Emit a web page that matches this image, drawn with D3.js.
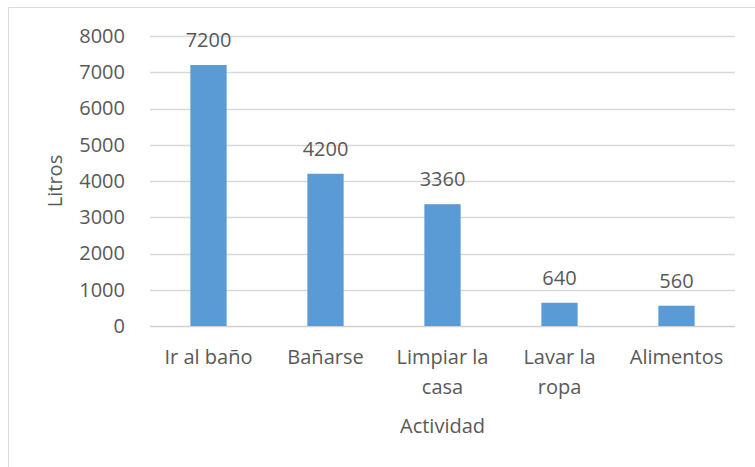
<!DOCTYPE html>
<html>
<head>
<meta charset="utf-8">
<script src="https://cdn.jsdelivr.net/npm/d3@7"></script>
<style>
  body { margin: 0; background: #fff; }
  svg text { font-family: "Open Sans", "Noto Sans", sans-serif; fill: #595959; }
</style>
</head>
<body>
<svg id="chart" width="755" height="467"></svg>
<script>
const categories = [["Ir al baño"], ["Bañarse"], ["Limpiar la", "casa"], ["Lavar la", "ropa"], ["Alimentos"]];
const values = [7200, 4200, 3360, 640, 560];
const yTicks = [0, 1000, 2000, 3000, 4000, 5000, 6000, 7000, 8000];

const svg = d3.select("#chart");
const margin = { left: 150, right: 20, top: 36, bottom: 141 };
const width = +svg.attr("width");
const height = +svg.attr("height");

// chart frame
svg.append("path")
  .attr("d", `M8.5,${height} V7.5 H${width}`)
  .attr("fill", "none")
  .attr("stroke", "#d9d9d9")
  .attr("stroke-width", 1);

const x = d3.scaleBand()
  .domain(d3.range(values.length))
  .range([margin.left, width - margin.right])
  .paddingInner(0.69)
  .paddingOuter(0.345);

const y = d3.scaleLinear()
  .domain([0, 8000])
  .range([height - margin.bottom, margin.top]);

// gridlines
svg.append("g")
  .selectAll("line")
  .data(yTicks)
  .join("line")
  .attr("x1", margin.left)
  .attr("x2", width - margin.right)
  .attr("y1", d => Math.round(y(d)) + 0.5)
  .attr("y2", d => Math.round(y(d)) + 0.5)
  .attr("stroke", (d) => d === 0 ? "#d0d0d0" : "#d9d9d9")
  .attr("stroke-width", 1.5);

// y axis labels
const yAxis = svg.append("g")
  .attr("transform", `translate(${margin.left},0)`)
  .call(d3.axisLeft(y).tickValues(yTicks).tickSize(0).tickPadding(25).tickFormat(d3.format("d")));
yAxis.select(".domain").remove();
yAxis.selectAll("text").style("font-size", "20px").attr("fill", "#595959");

// bars
svg.append("g")
  .selectAll("rect")
  .data(values)
  .join("rect")
  .attr("x", (d, i) => x(i))
  .attr("y", d => y(d))
  .attr("width", x.bandwidth())
  .attr("height", d => y(0) - y(d))
  .attr("fill", "#5b9bd5");

// data labels
svg.append("g")
  .selectAll("text")
  .data(values)
  .join("text")
  .attr("x", (d, i) => x(i) + x.bandwidth() / 2)
  .attr("y", d => y(d) - 18)
  .attr("text-anchor", "middle")
  .style("font-size", "20px")
  .text(d => d);

// category labels
const cat = svg.append("g")
  .selectAll("text")
  .data(categories)
  .join("text")
  .attr("text-anchor", "middle")
  .attr("transform", (d, i) => `translate(${x(i) + x.bandwidth() / 2},${y(0) + 38})`)
  .style("font-size", "20px");
cat.selectAll("tspan")
  .data(d => d)
  .join("tspan")
  .attr("x", 0)
  .attr("dy", (d, i) => i === 0 ? 0 : 30)
  .text(d => d);

// axis titles
svg.append("text")
  .attr("x", (margin.left + width - margin.right) / 2)
  .attr("y", 433)
  .attr("text-anchor", "middle")
  .style("font-size", "20px")
  .text("Actividad");

svg.append("text")
  .attr("transform", `translate(62,${(y(0) + y(8000)) / 2}) rotate(-90)`)
  .attr("text-anchor", "middle")
  .style("font-size", "20px")
  .text("Litros");
</script>
</body>
</html>
